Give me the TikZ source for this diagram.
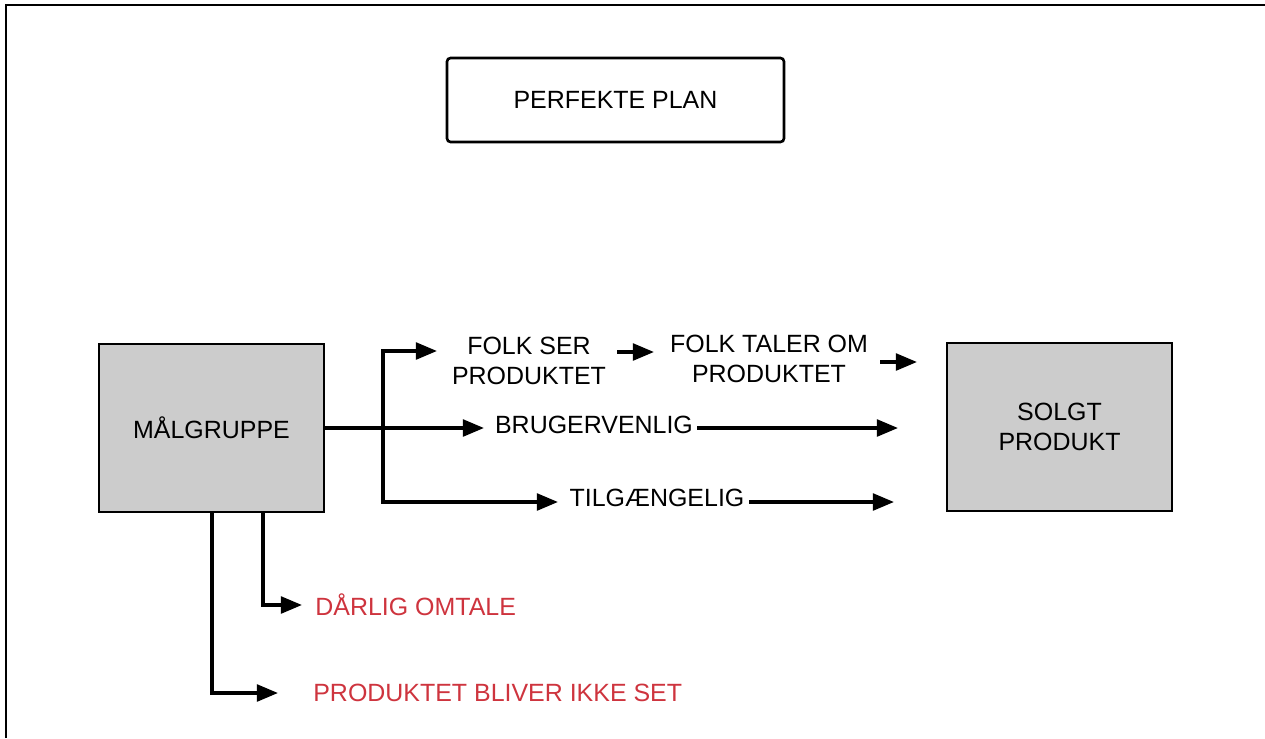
\documentclass[tikz,border=0pt]{standalone}
\usepackage{fontspec}
\setmainfont{Liberation Sans}
\usetikzlibrary{arrows.meta}
\definecolor{boxgray}{RGB}{204,204,204}
\definecolor{warnred}{RGB}{206,52,62}
\begin{document}
\begin{tikzpicture}[x=0.02cm,y=-0.02cm,
  font=\fontsize{14.2pt}{16.9pt}\selectfont,
  ln/.style={line width=1.9pt},
  arr/.style={ln,-{Triangle[length=12pt,width=9.5pt]}},
  box/.style={draw,line width=1.5pt,fill=boxgray,minimum width=4.5cm,minimum height=3.36cm,align=center,inner sep=0pt},
  planbox/.style={draw,line width=1.5pt,rounded corners=2pt,minimum width=6.74cm,minimum height=1.68cm,inner sep=0pt},
  txt/.style={align=center,inner sep=0pt},
  warn/.style={text=warnred,inner sep=0pt,anchor=west}]
\useasboundingbox (0,0) rectangle (1265,738);
% outer frame (top and left edges only)
\draw[line width=1.4pt] (6,738) -- (6,5) -- (1265,5);

% boxes
\node[planbox] (plan) at (615.5,100) {PERFEKTE PLAN};
\node[box] (mal) at (211.5,428) {MÅLGRUPPE};
\node[box] (solgt) at (1059.5,427) {SOLGT\\PRODUKT};

% labels
\node[txt] (folk) at (529,361) {FOLK SER\\PRODUKTET};
\node[txt] (tal) at (769,359) {FOLK TALER OM\\PRODUKTET};
\node[txt] (bru) at (594,425) {BRUGERVENLIG};
\node[txt] (til) at (657,498) {TILGÆNGELIG};
\node[warn] (dar) at (315,605) {DÅRLIG OMTALE};
\node[warn] (ikke) at (313,693) {PRODUKTET BLIVER IKKE SET};

% junction and arrow tip points
\coordinate (jt) at (383,351);
\coordinate (jb) at (383,502);
\coordinate (folkin) at (437,351);
\coordinate (bruin) at (484,428);
\coordinate (tilin) at (558,502);
\coordinate (s1) at (617,352);
\coordinate (e1) at (654,352);
\coordinate (s2) at (880,362);
\coordinate (e2) at (917,362);
\coordinate (bruout) at (697,428);
\coordinate (bruend) at (898,428);
\coordinate (tilout) at (749,502);
\coordinate (tilend) at (894,502);
\coordinate (d1) at (263,512);
\coordinate (d1end) at (302,605);
\coordinate (d2) at (212,512);
\coordinate (d2end) at (278,693);

% connectors
\draw[arr] (mal.east) -- (bruin);
\draw[ln,line cap=rect] (jt) -- (jb);
\draw[arr] (jt) -- (folkin);
\draw[arr] (jb) -- (tilin);
\draw[arr] (s1) -- (e1);
\draw[arr] (s2) -- (e2);
\draw[arr] (bruout) -- (bruend);
\draw[arr] (tilout) -- (tilend);
\draw[arr] (d1) |- (d1end);
\draw[arr] (d2) |- (d2end);
\end{tikzpicture}
\end{document}
